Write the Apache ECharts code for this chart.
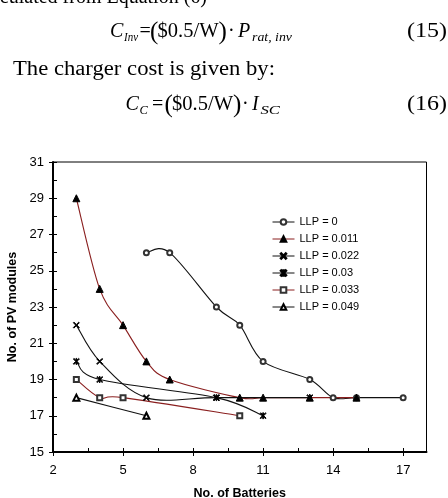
<!DOCTYPE html>
<html><head><meta charset="utf-8">
<script src="https://cdn.jsdelivr.net/npm/echarts@6/dist/echarts.min.js"></script>
<style>html,body{margin:0;padding:0;background:#fff}#c{width:448px;height:498px}</style>
</head><body><div id="c"></div>
<script>
// Data
const seriesNames = ['LLP = 0', 'LLP = 0.011', 'LLP = 0.022', 'LLP = 0.03', 'LLP = 0.033', 'LLP = 0.049'];
const llp0    = [[6,26],[7,26],[9,23],[10,22],[11,20],[13,19],[14,18],[15,18],[17,18]];
const llp011  = [[3,29],[4,24],[5,22],[6,20],[7,19],[10,18],[11,18],[13,18],[15,18]];
const llp022  = [[3,22],[4,20],[6,18],[9,18],[13,18]];
const llp03   = [[3,20],[4,19],[9,18],[11,17]];
const llp033  = [[3,19],[4,18],[5,18],[10,17]];
const llp049  = [[3,18],[6,17]];
const xTickLabels = [2,5,8,11,14,17];
const yTickLabels = [15,17,19,21,23,25,27,29,31];

const SANS = 'Liberation Sans, Arial, sans-serif';
const SERIF = 'Liberation Serif, Times New Roman, serif';
const DARKRED = '#8a1f1f';
const XPATH = 'path://M1,0L5,4L9,0L10,1L6,5L10,9L9,10L5,6L1,10L0,9L4,5L0,1Z';
const STARPATH = 'path://M1,0L5,4L9,0L10,1L6,5L10,9L9,10L5,6L1,10L0,9L4,5L0,1Z M4.4,0L4.4,10L5.6,10L5.6,0Z';

const chart = echarts.init(document.getElementById('c'));

const mctx = document.createElement('canvas').getContext('2d');
// x: left of text, base: baseline y, w: target width (0 = natural)
function txt(x, base, s, size, italic, w, align) {
  const font = (italic ? 'italic ' : '') + size + 'px ' + SERIF;
  mctx.font = font;
  const nat = mctx.measureText(s).width;
  const sx = w ? w / nat : 1;
  return {
    type: 'text', x: x, y: base - 0.305 * size, scaleX: sx, silent: true,
    style: { text: s, fill: '#000', font: font, align: align || 'left', verticalAlign: 'middle' }
  };
}

const graphics = [
  txt(207, 3.5, 'calculated from Equation (6)', 20, false, 0, 'right'),
  // Eq 15
  txt(110, 38, 'C', 20, true),
  txt(124, 41.5, 'Inv', 12.5, true, 14),
  txt(139.5, 38, '=', 20),
  txt(150, 40, '(', 25),
  txt(157.5, 38, '$0.5/W', 20, false, 61),
  txt(218.5, 40, ')', 25),
  txt(228, 38, '·', 20),
  txt(238, 38, 'P', 20, true),
  txt(252, 42, 'rat, inv', 12.5, true, 40),
  txt(407, 38, '(15)', 20, false, 40),
  txt(13, 75.5, 'The charger cost is given by:', 20, false, 262),
  // Eq 16
  txt(125.5, 111.3, 'C', 20, true),
  txt(139.5, 115, 'C', 12.5, true),
  txt(152, 111.3, '=', 20),
  txt(164.5, 113.3, '(', 25),
  txt(172, 111.3, '$0.5/W', 20, false, 61),
  txt(233, 113.3, ')', 25),
  txt(242, 111.3, '·', 20),
  txt(252, 111.3, 'I', 20, true),
  txt(260.5, 115, 'SC', 12.5, true, 19.5),
  txt(407, 111.3, '(16)', 20, false, 40)
];

// Excel-like smoothed curve (Catmull-Rom -> Bezier) through the data points, in pixel space via api.coord
function curveSeries(data, color) {
  return {
    type: 'custom', data: data, z: 2, silent: true, clip: false,
    xAxisIndex: 0, yAxisIndex: 0,
    encode: {x: 0, y: 1},
    renderItem: function (params, api) {
      if (params.dataIndex !== 0) return null;
      const p = data.map(d => api.coord(d));
      let d = 'M' + p[0][0] + ' ' + p[0][1];
      for (let i = 0; i < p.length - 1; i++) {
        const p0 = p[i - 1] || p[i], p1 = p[i], p2 = p[i + 1], p3 = p[i + 2] || p[i + 1];
        const c1x = p1[0] + (p2[0] - p0[0]) / 6, c1y = p1[1] + (p2[1] - p0[1]) / 6;
        const c2x = p2[0] - (p3[0] - p1[0]) / 6, c2y = p2[1] - (p3[1] - p1[1]) / 6;
        d += ' C' + c1x + ' ' + c1y + ' ' + c2x + ' ' + c2y + ' ' + p2[0] + ' ' + p2[1];
      }
      return {type: 'path', shape: {pathData: d}, style: {stroke: color, fill: null, lineWidth: 1.1}};
    },
    animation: false
  };
}

function markSeries(name, data, symbol, size, itemColor) {
  return {
    name: name, type: 'line', data: data, z: 3,
    xAxisIndex: 0, yAxisIndex: 0,
    symbol: symbol, symbolSize: size, showSymbol: true,
    lineStyle: {opacity: 0},
    itemStyle: {color: itemColor, borderColor: itemColor, borderWidth: 1},
    emphasis: {disabled: true},
    animation: false
  };
}

const lineColors = ['#111', DARKRED, '#111', '#111', DARKRED, '#111'];

chart.setOption({
  animation: false,
  graphic: graphics,
  grid: {left: 53, top: 162, right: 21.5, bottom: 46, show: true, borderColor: '#000', borderWidth: 1,
         backgroundColor: 'transparent', outerBoundsMode: 'none', containLabel: false},
  legend: {
    orient: 'vertical', left: 267, top: 211.5, padding: 5,
    itemWidth: 22, itemHeight: 7, itemGap: 6,
    textStyle: {fontFamily: SANS, fontSize: 11, color: '#000'},
    data: seriesNames.map((n, i) => ({name: n, lineStyle: {color: lineColors[i], width: 1, opacity: 1}}))
  },
  xAxis: [
    {type: 'value', min: 2, max: 18, interval: 3,
     name: 'No. of Batteries', nameLocation: 'middle', nameGap: 35,
     nameTextStyle: {fontFamily: SANS, fontSize: 12.5, fontWeight: 'bold', color: '#000'},
     axisLine: {show: true, lineStyle: {color: '#000', width: 2}},
     axisTick: {show: true, inside: false, length: 4, lineStyle: {color: '#000', width: 1}},
     axisLabel: {fontFamily: SANS, fontSize: 13, color: '#000', margin: 12, showMaxLabel: false,
       formatter: v => xTickLabels.indexOf(v) >= 0 ? String(v) : ''},
     splitLine: {show: false}},
    {type: 'value', min: 2, max: 18, interval: 1.5, position: 'bottom',
     axisLine: {show: false},
     axisTick: {show: true, inside: true, length: 4, lineStyle: {color: '#000', width: 1}},
     axisLabel: {show: false}, splitLine: {show: false}}
  ],
  yAxis: [
    {type: 'value', min: 15, max: 31, interval: 2,
     name: 'No. of PV modules', nameLocation: 'middle', nameGap: 34, nameRotate: 90,
     nameTextStyle: {fontFamily: SANS, fontSize: 12.5, fontWeight: 'bold', color: '#000'},
     axisLine: {show: true, lineStyle: {color: '#000', width: 2}},
     axisTick: {show: true, inside: false, length: 4, lineStyle: {color: '#000', width: 1}},
     axisLabel: {fontFamily: SANS, fontSize: 13, color: '#000', margin: 9,
       formatter: v => yTickLabels.indexOf(v) >= 0 ? String(v) : ''},
     splitLine: {show: false}},
    {type: 'value', min: 15, max: 31, interval: 1, position: 'left',
     axisLine: {show: false},
     axisTick: {show: true, inside: true, length: 4, lineStyle: {color: '#000', width: 1}},
     axisLabel: {show: false}, splitLine: {show: false}}
  ],
  series: [
    curveSeries(llp0, lineColors[0]),
    curveSeries(llp011, lineColors[1]),
    curveSeries(llp022, lineColors[2]),
    curveSeries(llp03, lineColors[3]),
    curveSeries(llp033, lineColors[4]),
    curveSeries(llp049, lineColors[5]),
    markSeries(seriesNames[0], llp0, 'emptyCircle', 5, '#333'),
    markSeries(seriesNames[1], llp011, 'triangle', 7, '#000'),
    markSeries(seriesNames[2], llp022, XPATH, 6, '#000'),
    markSeries(seriesNames[3], llp03, STARPATH, 6, '#000'),
    markSeries(seriesNames[4], llp033, 'emptyRect', 5, '#333'),
    markSeries(seriesNames[5], llp049, 'emptyTriangle', 6, '#000')
  ]
});
</script></body></html>
